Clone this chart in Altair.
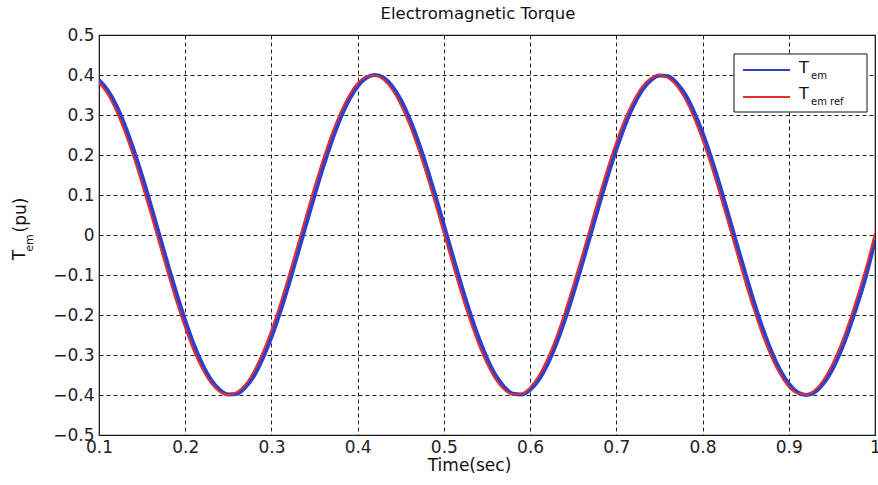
import altair as alt
import pandas as pd

# Sample instants (s), 0.10 .. 1.00 in 0.01 steps
time_s = [round(0.10 + 0.01 * i, 2) for i in range(91)]

# Measured electromagnetic torque (pu)
tem = [
    0.387, 0.362, 0.324, 0.274, 0.214, 0.147, 0.075, 0.000, -0.075, -0.147,
    -0.214, -0.274, -0.324, -0.362, -0.387, -0.399, -0.397, -0.380, -0.351, -0.308,
    -0.255, -0.193, -0.124, -0.050, 0.025, 0.099, 0.170, 0.235, 0.292, 0.338,
    0.372, 0.393, 0.400, 0.393, 0.372, 0.338, 0.292, 0.235, 0.170, 0.099,
    0.025, -0.050, -0.124, -0.193, -0.255, -0.308, -0.351, -0.380, -0.397, -0.399,
    -0.387, -0.362, -0.324, -0.274, -0.214, -0.147, -0.075, 0.000, 0.075, 0.147,
    0.214, 0.274, 0.324, 0.362, 0.387, 0.399, 0.397, 0.380, 0.351, 0.308,
    0.255, 0.193, 0.124, 0.050, -0.025, -0.099, -0.170, -0.235, -0.292, -0.338,
    -0.372, -0.393, -0.400, -0.393, -0.372, -0.338, -0.292, -0.235, -0.170, -0.099,
    -0.012,
]

# Torque reference (pu)
tem_ref = [
    0.381, 0.352, 0.310, 0.257, 0.195, 0.126, 0.053, -0.022, -0.097, -0.168,
    -0.233, -0.290, -0.336, -0.371, -0.392, -0.400, -0.393, -0.373, -0.339, -0.293,
    -0.237, -0.173, -0.102, -0.028, 0.047, 0.121, 0.190, 0.253, 0.306, 0.349,
    0.380, 0.396, 0.399, 0.388, 0.363, 0.325, 0.276, 0.217, 0.150, 0.078,
    0.003, -0.072, -0.145, -0.212, -0.272, -0.322, -0.361, -0.387, -0.399, -0.397,
    -0.381, -0.352, -0.310, -0.257, -0.195, -0.126, -0.053, 0.022, 0.097, 0.168,
    0.233, 0.290, 0.336, 0.371, 0.392, 0.400, 0.393, 0.373, 0.339, 0.293,
    0.237, 0.173, 0.102, 0.028, -0.047, -0.121, -0.190, -0.253, -0.306, -0.349,
    -0.380, -0.396, -0.399, -0.388, -0.363, -0.325, -0.276, -0.217, -0.150, -0.078,
    0.005,
]

x_ticks = [0.1, 0.2, 0.3, 0.4, 0.5, 0.6, 0.7, 0.8, 0.9, 1.0]
y_ticks = [-0.5, -0.4, -0.3, -0.2, -0.1, 0.0, 0.1, 0.2, 0.3, 0.4, 0.5]

FONT = "DejaVu Sans"
BLUE = "#2d3fcc"
RED = "#e2302c"
W, H = 776, 400

df_tem = pd.DataFrame({"t": time_s, "v": tem})
df_ref = pd.DataFrame({"t": time_s, "v": tem_ref})

x_enc = alt.X(
    "t:Q",
    scale=alt.Scale(domain=[0.1, 1.0], nice=False, zero=False),
    axis=alt.Axis(
        values=x_ticks, tickCount=10, format=".1~f", title="Time(sec)",
        titleX=370, titleY=35, titleBaseline="alphabetic", titleAlign="center",
        titleFont=FONT, titleFontSize=17, titleFontWeight="normal", titleColor="#111",
        labelFont=FONT, labelFontSize=17, labelColor="#222", labelPadding=4,
        labelFlush=False, labelOverlap=False,
        grid=True, gridDash=[4, 3], gridColor="#222", gridOpacity=1, gridWidth=1,
        ticks=False, domain=False,
    ),
)
y_enc = alt.Y(
    "v:Q",
    scale=alt.Scale(domain=[-0.5, 0.5], nice=False, zero=False),
    axis=alt.Axis(
        values=y_ticks, tickCount=11, format=".1~f", title=None,
        labelFont=FONT, labelFontSize=17, labelColor="#222", labelPadding=5,
        labelFlush=False, labelOverlap=False,
        grid=True, gridDash=[4, 3], gridColor="#222", gridOpacity=1, gridWidth=1,
        ticks=False, domain=False,
    ),
)

line_tem = alt.Chart(df_tem).mark_line(
    color=BLUE, strokeWidth=4, interpolate="monotone", clip=True
).encode(x=x_enc, y=y_enc)

line_ref = alt.Chart(df_ref).mark_line(
    color=RED, strokeWidth=2, interpolate="monotone", clip=True
).encode(x=x_enc, y=y_enc)

# Legend box in the upper right corner
legend_box = alt.Chart().mark_rect(
    fill="white", stroke="#111", strokeWidth=1
).encode(x=alt.value(635), x2=alt.value(768), y=alt.value(19), y2=alt.value(77))

legend_lines = alt.layer(
    alt.Chart().mark_rule(color=BLUE, strokeWidth=2).encode(
        x=alt.value(644), x2=alt.value(691), y=alt.value(35)),
    alt.Chart().mark_rule(color=RED, strokeWidth=2).encode(
        x=alt.value(644), x2=alt.value(691), y=alt.value(62)),
)

def txt(s, x, y, size, angle=0, align="left", baseline="alphabetic"):
    return alt.Chart().mark_text(
        text=s, font=FONT, fontSize=size, color="#111", align=align,
        baseline=baseline, angle=angle,
    ).encode(x=alt.value(x), y=alt.value(y))

legend_text = alt.layer(
    txt("T", 700, 38, 16),
    txt("em", 712, 44, 10),
    txt("T", 700, 64, 16),
    txt("em  ref", 712, 70, 10),
)

# Y axis title: T with "em" subscript, then (pu)
y_title = alt.layer(
    txt("T", -79, 220, 17, angle=270, align="center", baseline="middle"),
    txt("em", -69, 208, 11, angle=270, align="center", baseline="middle"),
    txt("(pu)", -78, 180, 17, angle=270, align="center", baseline="middle"),
)

chart = alt.layer(
    line_tem, line_ref, legend_box, legend_lines, legend_text, y_title
).properties(
    width=W, height=H,
    title=alt.TitleParams(
        "Electromagnetic Torque", font=FONT, fontSize=16.5, fontWeight="normal",
        color="#111", anchor="middle", frame="group", dx=-9, offset=4,
    ),
    autosize=alt.AutoSizeParams(type="none"),
    padding={"left": 99, "top": 35, "right": 3, "bottom": 50},
    background="white",
).configure_view(stroke="#111", strokeWidth=1.2)

chart.save("out.html", embed_options={"renderer": "svg", "actions": False})
